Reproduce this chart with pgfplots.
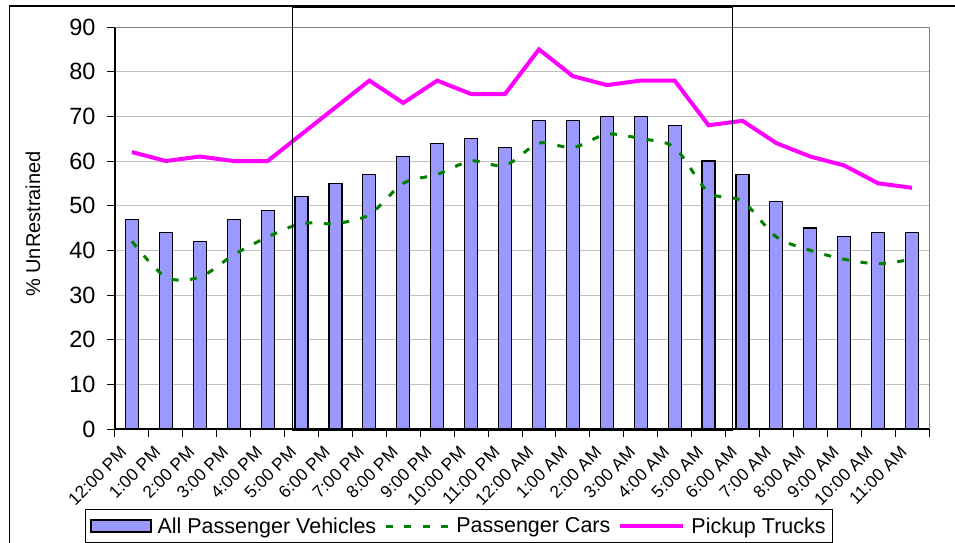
\documentclass[border=0pt]{standalone}
\usepackage{fontspec}
\setmainfont{Liberation Sans}
\usepackage{pgfplots}
\pgfplotsset{compat=1.18}
\definecolor{barblue}{HTML}{9999FF}
\definecolor{cargreen}{HTML}{008000}
\definecolor{truckmag}{HTML}{FF00FF}
\definecolor{gridgray}{HTML}{C0C0C0}
\begin{document}
\begin{tikzpicture}[x=1pt,y=1pt]
\path[use as bounding box] (0,0) rectangle (955,542);
\draw[black, line width=1.2pt] (9.5,-5) -- (9.5,536) -- (960,536);
\begin{axis}[
  at={(115pt,113pt)}, anchor=south west,
  scale only axis, width=814pt, height=402pt,
  xmin=-0.5, xmax=23.5, ymin=0, ymax=90,
  ytick={0,10,...,90},
  xtick={0,...,23},
  xticklabels={12:00 PM,1:00 PM,2:00 PM,3:00 PM,4:00 PM,5:00 PM,6:00 PM,7:00 PM,8:00 PM,9:00 PM,10:00 PM,11:00 PM,12:00 AM,1:00 AM,2:00 AM,3:00 AM,4:00 AM,5:00 AM,6:00 AM,7:00 AM,8:00 AM,9:00 AM,10:00 AM,11:00 AM},
  minor xtick={-0.5,0.5,...,23.5},
  every major x tick/.style={draw=none},
  axis lines*=left,
  axis line style={black, line width=1.2pt},
  tick align=outside, major tick length=8pt, minor tick length=8pt,
  tick style={black, line width=1pt},
  ymajorgrids, grid style={gridgray, line width=1pt},
  /pgf/number format/assume math mode=true,
  yticklabel style={font=\fontsize{23.5}{24}\selectfont, xshift=-8pt},
  xticklabel style={font=\fontsize{17.3}{18}\selectfont, xshift=-6pt, yshift=-10pt, rotate=45, anchor=east},
  ylabel={\% UnRestrained},
  ylabel style={font=\fontsize{20}{22}\selectfont, at={(axis description cs:-0.1007,0.51)}, anchor=center},
  legend columns=3,
  legend cell align=left,
  legend style={at={(-0.0369,-0.199)}, anchor=north west, draw=black, line width=1pt,
    font=\fontsize{21.5}{24}\selectfont, inner xsep=5pt, inner ysep=6pt,
    /tikz/every odd column/.append style={column sep=4pt},
    /tikz/every even column/.append style={column sep=6pt}},
  clip=false,
]
\addplot[ybar, bar width=13pt, fill=barblue, draw=black, line width=1.1pt,
  legend image code/.code={\draw[fill=barblue, draw=black, line width=1.1pt] (0pt,-6pt) rectangle (60pt,6pt);}]
  coordinates {(0,47) (1,44) (2,42) (3,47) (4,49) (5,52) (6,55) (7,57) (8,61) (9,64) (10,65) (11,63) (12,69) (13,69) (14,70) (15,70) (16,68) (17,60) (18,57) (19,51) (20,45) (21,43) (22,44) (23,44)};
\addlegendentry{All Passenger Vehicles}
\addplot[cargreen, line width=3pt, smooth, dash pattern=on 7pt off 11.5pt,
  legend image code/.code={\draw[cargreen, line width=3pt, dash pattern=on 7pt off 11.5pt] (0pt,0pt) -- (63pt,0pt);}]
  coordinates {(0,42) (1,34) (2,34) (3,39) (4,43) (5,46) (6,46) (7,48) (8,55) (9,57) (10,60) (11,59) (12,64) (13,63) (14,66) (15,65) (16,63) (17,53) (18,51) (19,43) (20,40) (21,38) (22,37) (23,38)};
\addlegendentry{Passenger Cars}
\addplot[truckmag, line width=4pt,
  legend image code/.code={\draw[truckmag, line width=4pt] (0pt,0pt) -- (63pt,0pt);}]
  coordinates {(0,62) (1,60) (2,61) (3,60) (4,60) (5,66) (6,72) (7,78) (8,73) (9,78) (10,75) (11,75) (12,85) (13,79) (14,77) (15,78) (16,78) (17,68) (18,69) (19,64) (20,61) (21,59) (22,55) (23,54)};
\addlegendentry{Pickup Trucks}
\draw[gray, line width=1pt] (rel axis cs:0,1) -- (rel axis cs:1,1) -- (rel axis cs:1,0);
\end{axis}
\draw[black, line width=1pt] (292,112) rectangle (732,534);
\end{tikzpicture}
\end{document}
